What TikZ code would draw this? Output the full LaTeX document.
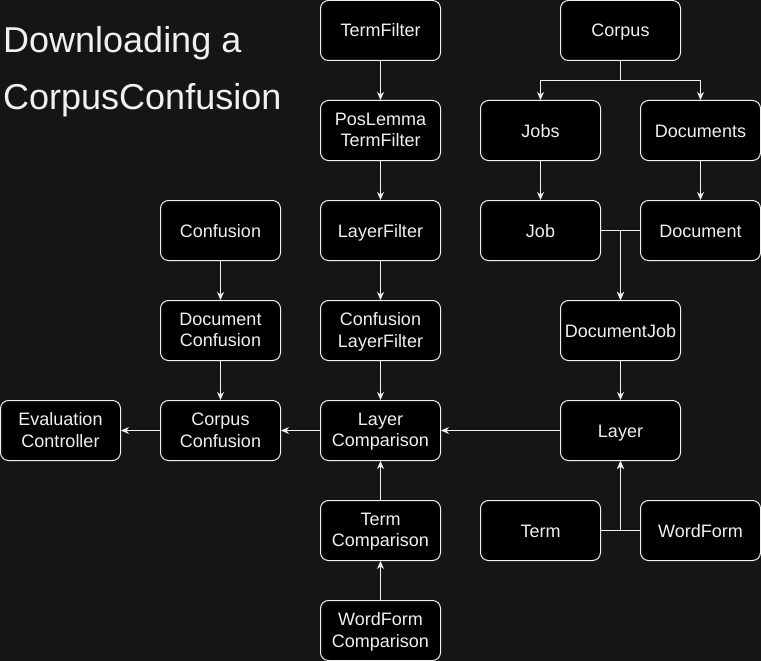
\documentclass[tikz,border=0pt]{standalone}
\usepackage{fontspec}
\setmainfont{Liberation Sans}
\usetikzlibrary{arrows.meta}
\definecolor{bg}{HTML}{151515}
\definecolor{fg}{HTML}{F0F0F0}
\begin{document}
\begin{tikzpicture}[x=1pt,y=-1pt,
  box/.style={draw=fg,fill=black,line width=1pt,rounded corners=8pt,minimum width=120pt,minimum height=60pt,inner sep=0pt,align=center,text=fg,font=\fontsize{18}{21.6}\selectfont,
    execute at begin node={\rule{0pt}{18pt}},text depth=5pt},
  twoline/.style={text depth=1pt},
  conn/.style={draw=fg,line width=1pt,-{Stealth[length=8pt,width=7pt,inset=2.5pt]}},
  plain/.style={draw=fg,line width=1pt}]
\fill[bg] (0,0) rectangle (761,661);
\useasboundingbox (0,0) rectangle (761,661);
\node[anchor=north west,align=left,text=fg,inner sep=0pt,font=\fontsize{36}{57}\selectfont] (title) at (3,26) {Downloading a\\CorpusConfusion};
\node[box] (termfilter) at (380.5,30.5) {TermFilter};
\node[box] (corpus) at (620.5,30.5) {Corpus};
\node[box,twoline] (poslemma) at (380.5,130.5) {PosLemma\\TermFilter};
\node[box] (jobs) at (540.5,130.5) {Jobs};
\node[box] (documents) at (700.5,130.5) {Documents};
\node[box] (confusion) at (220.5,230.5) {Confusion};
\node[box] (layerfilter) at (380.5,230.5) {LayerFilter};
\node[box] (job) at (540.5,230.5) {Job};
\node[box] (document) at (700.5,230.5) {Document};
\node[box,twoline] (docconf) at (220.5,330.5) {Document\\Confusion};
\node[box,twoline] (conflayer) at (380.5,330.5) {Confusion\\LayerFilter};
\node[box] (docjob) at (620.5,330.5) {DocumentJob};
\node[box,twoline] (evalctrl) at (60.5,430.5) {Evaluation\\Controller};
\node[box,twoline] (corpconf) at (220.5,430.5) {Corpus\\Confusion};
\node[box,twoline] (layercomp) at (380.5,430.5) {Layer\\Comparison};
\node[box] (layer) at (620.5,430.5) {Layer};
\node[box,twoline] (termcomp) at (380.5,530.5) {Term\\Comparison};
\node[box] (term) at (540.5,530.5) {Term};
\node[box] (wordform) at (700.5,530.5) {WordForm};
\node[box,twoline] (wfcomp) at (380.5,630.5) {WordForm\\Comparison};
\coordinate (split) at (620.5,80.5);
\draw[plain] (corpus.south) -- (split);
\draw[conn] (split) -| (jobs.north);
\draw[conn] (split) -| (documents.north);
\draw[conn] (termfilter) -- (poslemma);
\draw[conn] (poslemma) -- (layerfilter);
\draw[conn] (layerfilter) -- (conflayer);
\draw[conn] (conflayer) -- (layercomp);
\draw[conn] (jobs) -- (job);
\draw[conn] (documents) -- (document);
\draw[conn] (job.east) -| (docjob.north);
\draw[conn] (document.west) -| (docjob.north);
\draw[conn] (docjob) -- (layer);
\draw[conn] (layer) -- (layercomp);
\draw[conn] (term.east) -| (layer.south);
\draw[conn] (wordform.west) -| (layer.south);
\draw[conn] (termcomp) -- (layercomp);
\draw[conn] (wfcomp) -- (termcomp);
\draw[conn] (layercomp) -- (corpconf);
\draw[conn] (corpconf) -- (evalctrl);
\draw[conn] (confusion) -- (docconf);
\draw[conn] (docconf) -- (corpconf);
\end{tikzpicture}
\end{document}
